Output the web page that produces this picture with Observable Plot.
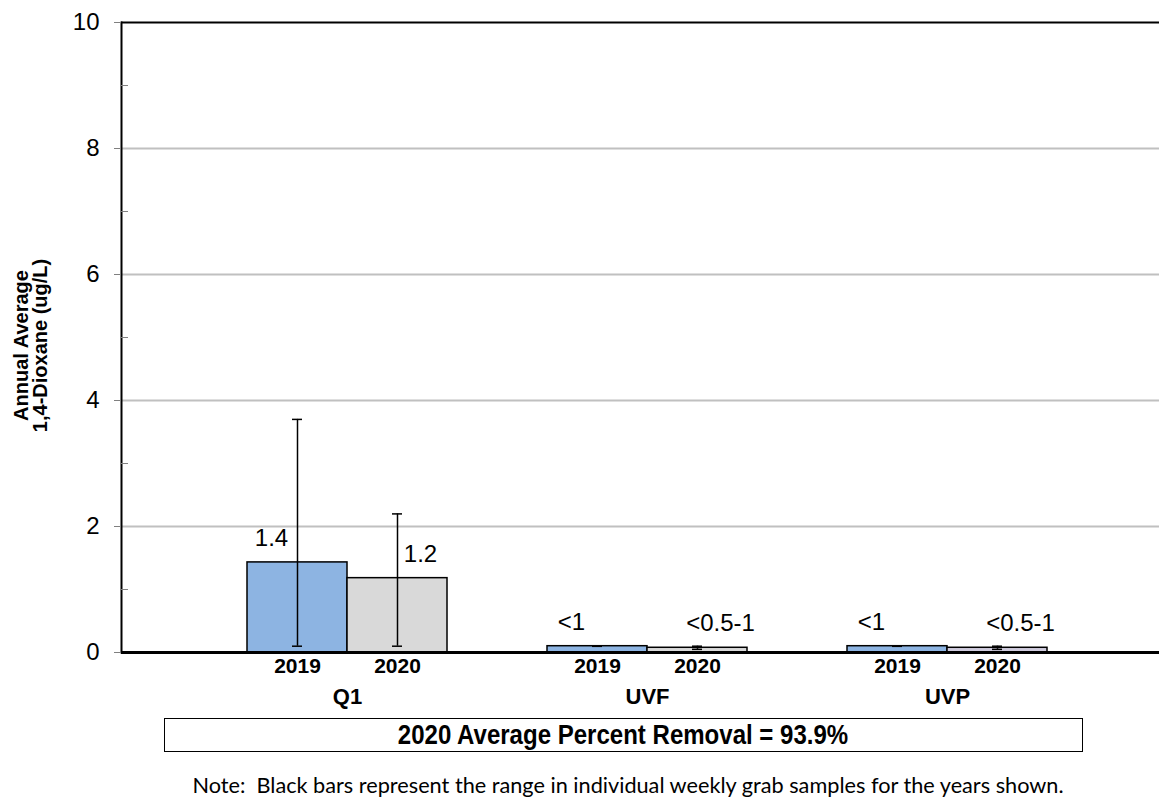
<!DOCTYPE html>
<html><head><meta charset="utf-8">
<script src="https://cdn.jsdelivr.net/npm/d3@7"></script>
<script src="https://cdn.jsdelivr.net/npm/@observablehq/plot@0.6"></script>
<style>
body{margin:0;background:#fff;font-family:"Liberation Sans",Arial,sans-serif;}
#wrap{position:relative;width:1159px;height:810px;}
#box{position:absolute;left:164px;top:718px;width:917px;height:32px;border:1.5px solid #000;box-sizing:content-box;
 display:flex;align-items:center;justify-content:center;font-family:"Liberation Sans",Arial,sans-serif;font-weight:bold;font-size:27px;color:#000;}
#box span{display:inline-block;transform:scaleX(0.89);white-space:nowrap;}
#note{position:absolute;left:0;width:1159px;top:771px;text-align:center;font-family:Lato,"Open Sans",sans-serif;font-size:21.7px;line-height:28px;color:#000;padding-left:97px;box-sizing:border-box;white-space:nowrap;}
</style></head>
<body><div id="wrap"><div id="chart"></div>
<div id="box"><span>2020 Average Percent Removal = 93.9%</span></div>
<div id="note">Note:&nbsp; Black bars represent the range in individual weekly grab samples for the years shown.</div>
</div>
<script>
const groups = ["Q1", "UVF", "UVP"];
const years = ["2019", "2020"];
const values2019 = [1.43, 0.10, 0.10];
const values2020 = [1.18, 0.075, 0.075];
const min2019 = [0.1, 0.098, 0.098];
const max2019 = [3.7, 0.102, 0.102];
const min2020 = [0.1, 0.05, 0.05];
const max2020 = [2.2, 0.1, 0.1];
const labels2019 = ["1.4", "<1", "<1"];
const labels2020 = ["1.2", "<0.5-1", "<0.5-1"];
const yTicks = [0, 2, 4, 6, 8, 10];
const yMinorTicks = [1, 3, 5, 7, 9];
const gridTicks = [2, 4, 6, 8];
const yTitle = ["Annual Average", "1,4-Dioxane (ug/L)"];

const rows = [];
groups.forEach((g, i) => {
  rows.push({group: g, year: years[0], key: g + "|" + years[0], value: values2019[i], lo: min2019[i], hi: max2019[i], label: labels2019[i]});
  rows.push({group: g, year: years[1], key: g + "|" + years[1], value: values2020[i], lo: min2020[i], hi: max2020[i], label: labels2020[i]});
});
const xDomain = [];
groups.forEach((g, i) => {
  years.forEach(y => xDomain.push(g + "|" + y));
  if (i < groups.length - 1) xDomain.push("gap" + i);
});
const fillOf = d => d.year === "2019" ? "#8db4e2" : (d.group === "UVP" ? "#cfcbdd" : "#d9d9d9");

const chart = Plot.plot({
  width: 1159,
  height: 712,
  marginLeft: 121,
  marginRight: 0,
  marginTop: 22,
  marginBottom: 60,
  style: {fontFamily: "'Liberation Sans', Arial, sans-serif", background: "#fff", color: "#000"},
  x: {domain: xDomain, paddingInner: 0, paddingOuter: 1.19, align: 0.529, axis: null},
  y: {domain: [0, 10], axis: null},
  color: {type: "identity"},
  marks: [
    Plot.gridY(gridTicks, {stroke: "#c0c0c0", strokeOpacity: 1, strokeWidth: 2}),
    Plot.ruleY([10], {stroke: "#000", strokeWidth: 2}),
    Plot.barY(rows, {x: "key", y: "value", fill: fillOf, stroke: "#000", strokeWidth: 1.5}),
    Plot.ruleX(rows, {x: "key", y1: "lo", y2: "hi", stroke: "#000", strokeWidth: 1.5}),
    Plot.tickY(rows, {x: "key", y: "lo", insetLeft: 45, insetRight: 45, stroke: "#000", strokeWidth: 1.5}),
    Plot.tickY(rows, {x: "key", y: "hi", insetLeft: 45, insetRight: 45, stroke: "#000", strokeWidth: 1.5}),
    Plot.ruleY([0], {stroke: "#000", strokeWidth: 3}),
    Plot.frame({anchor: "left", stroke: "#000", strokeWidth: 2}),
    Plot.axisY({ticks: yTicks, tickSize: 7, tickPadding: 15, fontSize: 24, stroke: "#808080", label: null}),
    Plot.axisY({ticks: yMinorTicks, tickSize: -7, tickFormat: () => "", stroke: "#808080", label: null}),
    Plot.text(rows.filter(d => d.year === "2019"), {x: "key", y: "value", text: "label", dy: -24, dx: -26, fontSize: 24}),
    Plot.text(rows.filter(d => d.year === "2020"), {x: "key", y: "value", text: "label", dy: -24, dx: 23, fontSize: 24}),
    Plot.text(rows, {x: "key", text: "year", frameAnchor: "bottom", dy: 20, fontSize: 21, fontWeight: "bold"}),
    Plot.text(groups, {x: d => d + "|2020", text: d => d, frameAnchor: "bottom", dy: 51, dx: -50, fontSize: 22, fontWeight: "bold"}),
    Plot.text([yTitle.join("\n")], {frameAnchor: "left", textAnchor: "middle", rotate: -90, dx: -90, dy: 8, fontSize: 20, fontWeight: "bold", lineHeight: 0.95})
  ]
});
document.getElementById("chart").appendChild(chart);
</script>
</body></html>
